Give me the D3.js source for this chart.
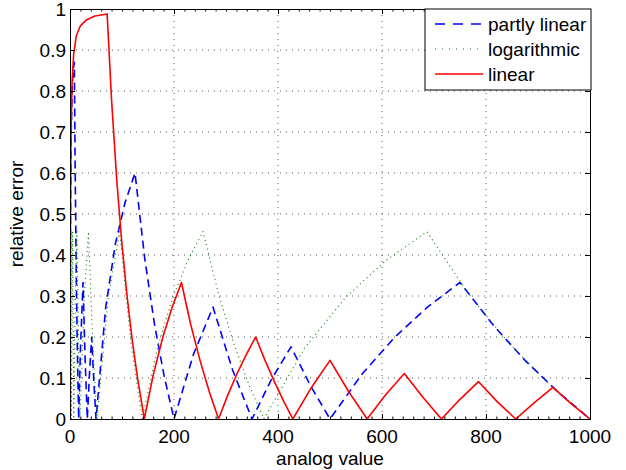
<!DOCTYPE html>
<html><head><meta charset="utf-8">
<script src="https://cdn.jsdelivr.net/npm/d3@7"></script>
<style>
body{margin:0;background:#fff;}
text{font-family:"Liberation Sans",Arial,sans-serif;}
</style></head>
<body><svg id="c" width="626" height="470"></svg>
<script>
// ---- data ----
const seriesNames = ["partly linear", "logarithmic", "linear"];
const xTicks = [0, 200, 400, 600, 800, 1000];
const yTicks = [0, 0.1, 0.2, 0.3, 0.4, 0.5, 0.6, 0.7, 0.8, 0.9, 1];
const yTickLabels = ["0","0.1","0.2","0.3","0.4","0.5","0.6","0.7","0.8","0.9","1"];

const partlyX = [0,1,2,4,6,8.3,10,12,14,16.7,20,25,29,33.3,37.5,41.7,45.8,50,68.75,87.5,106,125,143.75,162.5,181,200,237.5,275,312.5,350,387.5,425,462.5,500,562.5,625,687.5,750,812.5,875,937.5,1000];
const partlyY = [0,0.5,0.68,0.8,0.85,0.87,0.6,0.363,0.18,0,0.167,0.333,0.149,0,0.111,0.2,0.091,0,0.273,0.429,0.528,0.6,0.391,0.231,0.105,0,0.158,0.273,0.12,0,0.097,0.176,0.081,0,0.111,0.2,0.273,0.333,0.231,0.143,0.067,0];

const logX = [1,1.84,2.68,4.94,7.2,10.2,13.25,16.3,19.3,27.4,35.55,43.7,51.8,73.6,95.4,117.2,139,168,197.5,226.7,255.9,285,314.4,343.6,372.8,451,529.6,608,686.4,764.8,843.2,921.6,1000];
const logY = [0,0.457,0,0.457,0,0.29,0.457,0.185,0,0.296,0.457,0.185,0,0.296,0.457,0.186,0,0.173,0.296,0.387,0.457,0.308,0.186,0.085,0,0.173,0.296,0.387,0.457,0.308,0.186,0.085,0];

const linearX = [0,1,2,4,7,12,20,32,48,71.4,80,90,100,110,120,130,142.9,160,178.6,196,214.3,232,250,268,285.7,303,321.4,339,357.1,375,393,411,428.6,464.3,500,535.7,571.4,607,642.9,678.6,714.3,750,785.7,821,857.1,893,928.6,964,1000];
const linearY = [0,0.54,0.7,0.82,0.89,0.934,0.959,0.974,0.983,0.988,0.777,0.581,0.425,0.297,0.189,0.099,0,0.107,0.2,0.271,0.333,0.231,0.143,0.066,0,0.057,0.111,0.157,0.2,0.143,0.091,0.043,0,0.077,0.143,0.067,0,0.059,0.111,0.053,0,0.048,0.091,0.043,0,0.04,0.077,0.037,0];

// ---- layout ----
const W = 626, H = 470;
const L = 70, R = 590, T = 9, B = 419;
const svg = d3.select("#c");
const x = d3.scaleLinear().domain([0, 1000]).range([L, R]);
const y = d3.scaleLinear().domain([0, 1]).range([B, T]);

svg.append("rect").attr("width", W).attr("height", H).attr("fill", "#fff");

// grid
const grid = svg.append("g");
grid.selectAll("line.gx").data(xTicks.slice(1, -1)).enter().append("line")
  .attr("x1", d => x(d)).attr("x2", d => x(d)).attr("y1", T).attr("y2", B)
  .attr("stroke", "#555").attr("stroke-width", 1).attr("stroke-dasharray", "1,5");
grid.selectAll("line.gy").data(yTicks.slice(1, -1)).enter().append("line")
  .attr("y1", d => y(d)).attr("y2", d => y(d)).attr("x1", L).attr("x2", R)
  .attr("stroke", "#555").attr("stroke-width", 1).attr("stroke-dasharray", "1,5");

// clip
svg.append("clipPath").attr("id", "clip").append("rect")
  .attr("x", L).attr("y", T - 1).attr("width", R - L).attr("height", B - T + 1);

const line = d3.line().x(d => x(d[0])).y(d => y(d[1]));
const plot = svg.append("g").attr("clip-path", "url(#clip)");
const styles = [
  {stroke: "#0000ff", w: 1.6, dash: "8,5"},
  {stroke: "#008000", w: 1.1, dash: "1,3.5"},
  {stroke: "#ff0000", w: 1.6, dash: null}
];
const data = [d3.zip(partlyX, partlyY), d3.zip(logX, logY), d3.zip(linearX, linearY)];
data.forEach((d, i) => {
  plot.append("path").datum(d).attr("d", line).attr("fill", "none")
    .attr("stroke", styles[i].stroke).attr("stroke-width", styles[i].w)
    .attr("stroke-dasharray", styles[i].dash).attr("stroke-linejoin", "round");
});

// axes (box + inward ticks)
const ax = svg.append("g");
const xAxB = d3.axisBottom(x).tickValues(xTicks).tickSize(-5).tickFormat("");
const xAxT = d3.axisTop(x).tickValues(xTicks).tickSize(-5).tickFormat("");
const yAxL = d3.axisLeft(y).tickValues(yTicks).tickSize(-5).tickFormat("");
const yAxR = d3.axisRight(y).tickValues(yTicks).tickSize(-5).tickFormat("");
const xMinor = d3.range(0, 1001, 20);
ax.append("g").attr("transform", `translate(0,${B})`).call(d3.axisBottom(x).tickValues(xMinor).tickSize(-2.5).tickFormat(""));
ax.append("g").attr("transform", `translate(0,${T})`).call(d3.axisTop(x).tickValues(xMinor).tickSize(-2.5).tickFormat(""));
ax.append("g").attr("transform", `translate(0,${B})`).call(xAxB);
ax.append("g").attr("transform", `translate(0,${T})`).call(xAxT);
ax.append("g").attr("transform", `translate(${L},0)`).call(yAxL);
ax.append("g").attr("transform", `translate(${R},0)`).call(yAxR);
ax.selectAll("path.domain").attr("stroke", "#000").attr("stroke-width", 1);
ax.selectAll(".tick line").attr("stroke", "#000").attr("stroke-width", 1);

// tick labels
svg.selectAll("text.xt").data(xTicks).enter().append("text")
  .attr("x", d => x(d)).attr("y", 443).attr("text-anchor", "middle")
  .attr("font-size", 19).text(d => d);
svg.selectAll("text.yt").data(yTicks).enter().append("text")
  .attr("x", 66).attr("y", d => y(d) + 7).attr("text-anchor", "end")
  .attr("font-size", 19).text((d, i) => yTickLabels[i]);

svg.append("text").attr("x", (L + R) / 2).attr("y", 465).attr("text-anchor", "middle")
  .attr("font-size", 19).text("analog value");
svg.append("text").attr("transform", `translate(23,${(T + B) / 2}) rotate(-90)`)
  .attr("text-anchor", "middle").attr("font-size", 19).text("relative error");

// legend
const lg = svg.append("g");
lg.append("rect").attr("x", 425).attr("y", 9).attr("width", 166).attr("height", 81)
  .attr("fill", "#fff").attr("stroke", "#000").attr("stroke-width", 1);
seriesNames.forEach((n, i) => {
  const cy = 24 + i * 25;
  lg.append("line").attr("x1", 435).attr("x2", 483).attr("y1", cy).attr("y2", cy)
    .attr("stroke", styles[i].stroke).attr("stroke-width", styles[i].w)
    .attr("stroke-dasharray", i === 0 ? "10,8" : (i === 1 ? "1,6" : null));
  lg.append("text").attr("x", 488).attr("y", cy + 7).attr("font-size", 19).text(n);
});
</script></body></html>
